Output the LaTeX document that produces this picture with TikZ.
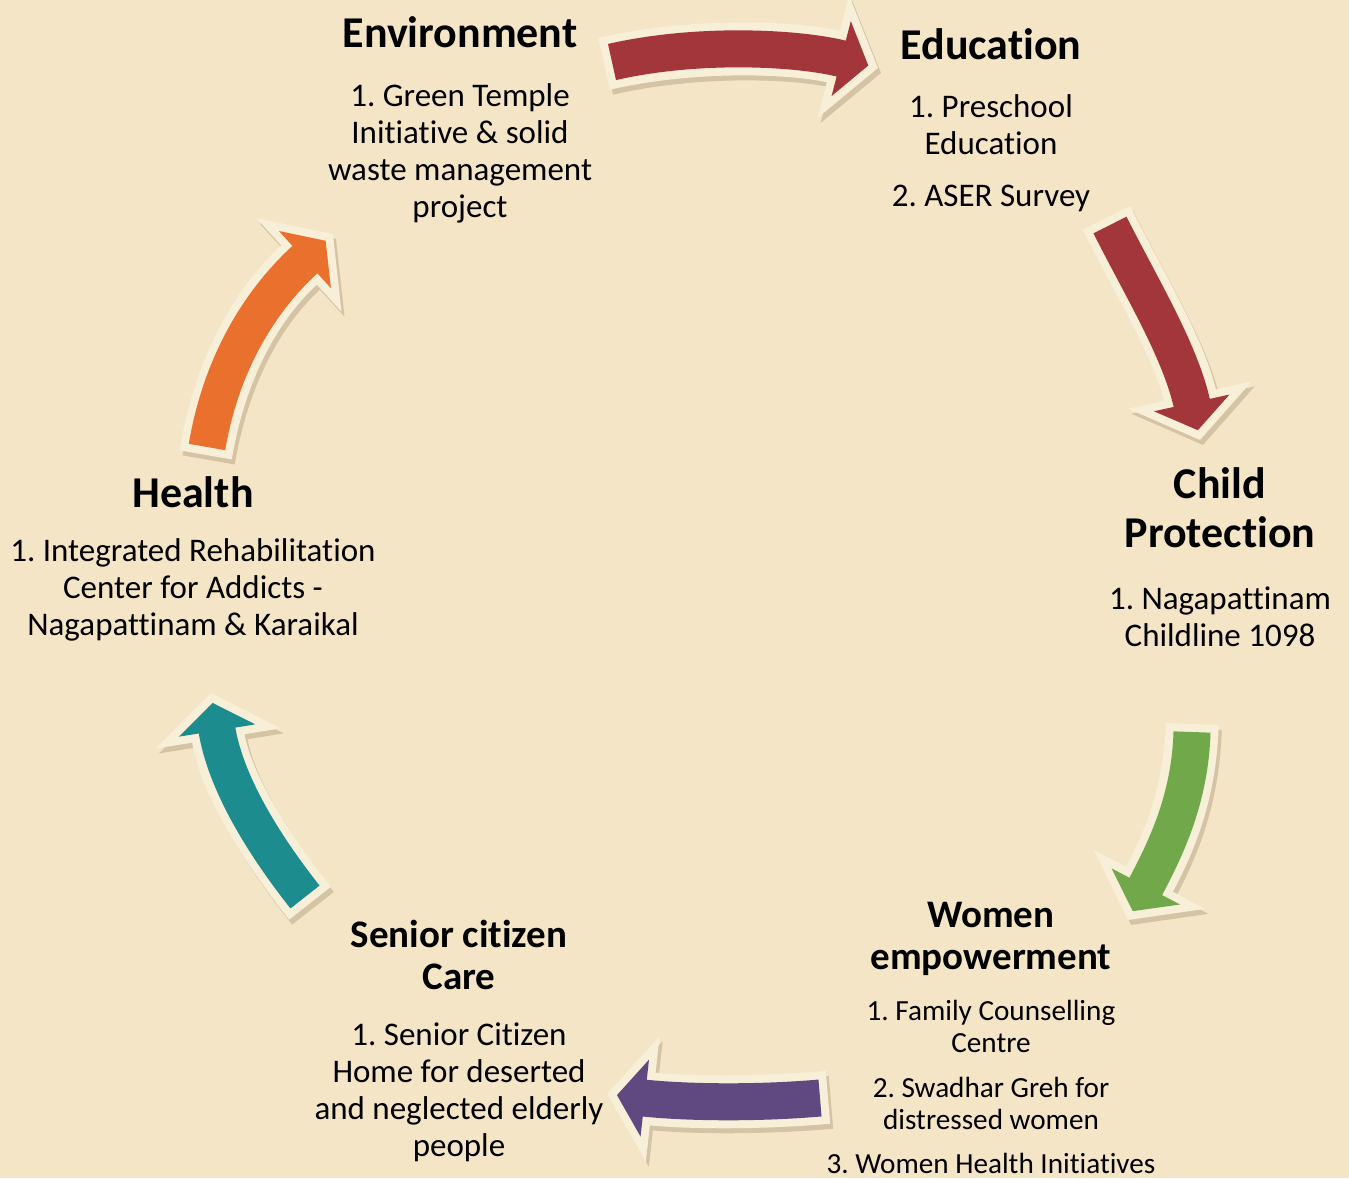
\documentclass[tikz,border=0pt]{standalone}
\usepackage{fontspec}
\setmainfont{Carlito}[Ligatures={TeX,NoCommon}]
\frenchspacing
\usetikzlibrary{arrows.meta,positioning}
\definecolor{paper}{RGB}{244,229,198}
\definecolor{rim}{RGB}{248,239,216}
\definecolor{shade}{RGB}{212,196,164}
\definecolor{brick}{RGB}{163,54,58}
\definecolor{tangerine}{RGB}{234,112,46}
\definecolor{lagoon}{RGB}{28,140,142}
\definecolor{plum}{RGB}{96,73,128}
\definecolor{leaf}{RGB}{112,168,74}
\tikzset{
  head/.style={font=\fontsize{22}{24.5}\selectfont\bfseries, align=center, inner sep=0pt, anchor=north},
  subhead/.style={font=\fontsize{19.5}{21}\selectfont\bfseries, align=center, inner sep=0pt, anchor=north},
  items/.style={font=\fontsize{16.5}{18.5}\selectfont, align=center, inner sep=0pt},
  smallitems/.style={font=\fontsize{14.6}{16}\selectfont, align=center, inner sep=0pt},
  flowarrow/.style={draw=rim, line width=26.5pt, shorten <=-4pt, -{Triangle[length=23pt,width=62pt]},
    preaction={draw=shade, line width=26.5pt, shorten <=-4pt, -{Triangle[length=23pt,width=62pt]}, transform canvas={xshift=1.5pt,yshift=-2.5pt}},
    postaction={draw=#1, line width=18.5pt, shorten <=0pt, shorten >=5pt, -{Triangle[length=14pt,width=38pt]}}}
}

\begin{document}
\begin{tikzpicture}[x=0.5pt, y=-0.5pt]
  \useasboundingbox (0,0) rectangle (1349,1178);
  \fill[paper] (0,0) rectangle (1349,1178);

  \node[head] (env) at (460,16) {Environment};
  \node[items, below=17.5pt of env] (envlist) {1. Green Temple\\Initiative \& solid\\waste management\\project};

  \node[head] (edu) at (991,28) {Education};
  \node[items, below=17pt of edu] (edulist) {1. Preschool\\Education\\[7.5pt]2. ASER Survey};

  \node[head] (child) at (1220,467) {Child\\Protection};
  \node[items, below=19pt of child] (childlist) {1. Nagapattinam\\Childline 1098};

  \node[subhead] (women) at (991,902) {Women\\empowerment};
  \node[smallitems, below=12pt of women] (womenlist) {1. Family Counselling\\Centre\\[6.5pt]2. Swadhar Greh for\\distressed women\\[6pt]3. Women Health Initiatives};

  \node[subhead] (senior) at (459,920) {Senior citizen\\Care};
  \node[items, below=16pt of senior] (seniorlist) {1. Senior Citizen\\Home for deserted\\and neglected elderly\\people};

  \node[head] (health) at (193,476) {Health};
  \node[items, below=15pt of health] (healthlist) {1. Integrated Rehabilitation\\Center for Addicts -\\Nagapattinam \& Karaikal};

  \coordinate (envout) at (612,62);
  \coordinate (eduin) at (878,68);
  \coordinate (eduout) at (1110,225);
  \coordinate (childin) at (1200,440);
  \coordinate (childout) at (1192,732);
  \coordinate (womenin) at (1128,920);
  \coordinate (womenout) at (820,1098);
  \coordinate (seniorin) at (607,1094);
  \coordinate (seniorout) at (305,897);
  \coordinate (healthin) at (211,693);
  \coordinate (healthout) at (207,447);
  \coordinate (envin) at (333,234);

  \draw[flowarrow=brick] (envout) .. controls (700,42) and (800,48) .. (eduin);
  \draw[flowarrow=brick] (eduout) .. controls (1140,285) and (1180,350) .. (childin);
  \draw[flowarrow=leaf] (childout) .. controls (1190,800) and (1165,850) .. (womenin);
  \draw[flowarrow=plum] (womenout) .. controls (750,1104) and (680,1102) .. (seniorin);
  \draw[flowarrow=lagoon] (seniorout) .. controls (260,840) and (225,780) .. (healthin);
  \draw[flowarrow=tangerine] (healthout) .. controls (220,370) and (255,305) .. (envin);
\end{tikzpicture}
\end{document}
